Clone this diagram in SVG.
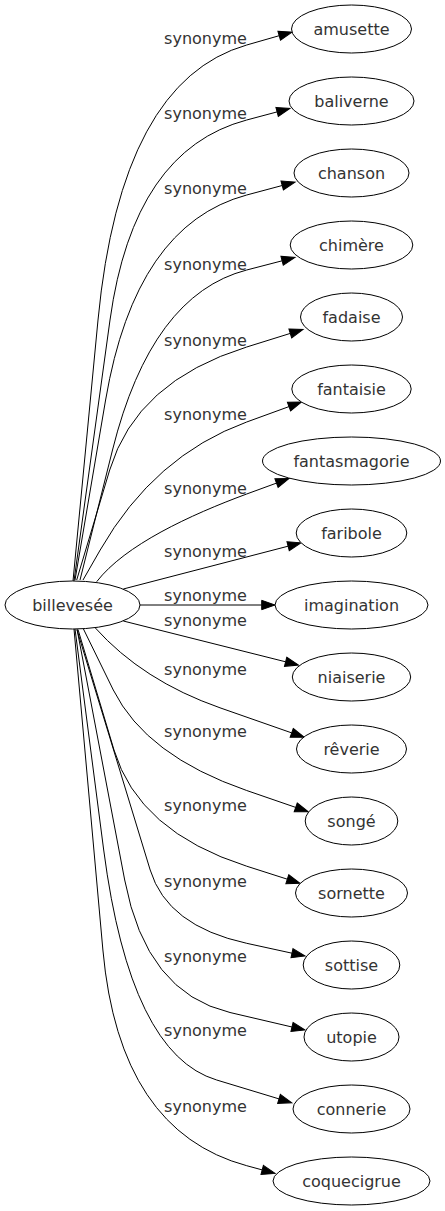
<svg xmlns="http://www.w3.org/2000/svg" width="445" height="1211" viewBox="0 0 445 1211">
<style>
.node ellipse{fill:#fff;stroke:#000;stroke-width:1}
.node text{font-family:"DejaVu Sans",sans-serif;font-size:16px;fill:#333;text-anchor:middle}
.edges path{fill:none;stroke:#000;stroke-width:1;marker-end:url(#ah)}
.edges text{font-family:"DejaVu Sans",sans-serif;font-size:16px;fill:#333;text-anchor:middle}
</style>
<defs>
<marker id="ah" markerUnits="userSpaceOnUse" markerWidth="14" markerHeight="10" viewBox="0 0 14 10" refX="0" refY="4.67" orient="auto" overflow="visible">
<path d="M0,0 L13.3,4.67 L0,9.33 Z" fill="#000" stroke="#000" stroke-width="1"/>
</marker>
</defs>
<rect width="445" height="1211" fill="#fff"/>
<g id="edges" class="edges">
<path d="M73,581 L98,320 Q120.9,81.1 246.7,45 L279.2,35.7"/>
<path d="M74,581 L110,320 Q133.5,150.1 246.7,120 L277.1,111.9"/>
<path d="M75,580 L105.6,400 Q135.4,224.9 246.7,195 L282.2,185.5"/>
<path d="M80,580 L112.5,450 Q151.3,294.7 246.7,270 L282.1,260.8"/>
<path d="M76.7,580 L109.7,470 Q136.3,381.3 246.7,347 L290.3,333.4"/>
<path d="M83,580 L100.2,550 Q154.3,455.7 246.7,422 L289,406.6"/>
<path d="M96.7,581.7 C125,545 190,515 246.7,494 L276.5,483.1"/>
<path d="M123.3,589 L288.1,546.2"/>
<path d="M140,605 L261.7,605"/>
<path d="M123.3,621 L285.6,661.8"/>
<path d="M95,627.6 Q142.7,680.8 220,707.8 L291.7,732.9"/>
<path d="M83.3,628.7 L113.3,690 Q146.2,755.8 246.7,790.5 L295.7,807.4"/>
<path d="M78,629.5 L114,750 Q138.5,831.6 246.7,866.2 L287.3,879.2"/>
<path d="M77,630 L150.2,870 Q167.2,926 246.7,943.3 L292,953.2"/>
<path d="M77,629 L124.7,880 Q146.1,992.8 230,1012.5 L292,1027"/>
<path d="M75,629 L103.7,850 Q130.3,1054.3 216.7,1080 L279,1098.9"/>
<path d="M74,629 L102.9,950 Q119.2,1131.2 246.7,1165.7 L262.2,1169.9"/>
<text x="205.5" y="44">synonyme</text>
<text x="205.5" y="119">synonyme</text>
<text x="205.5" y="194">synonyme</text>
<text x="205.5" y="270">synonyme</text>
<text x="205.5" y="346">synonyme</text>
<text x="205.5" y="420">synonyme</text>
<text x="205.5" y="494">synonyme</text>
<text x="205.5" y="557">synonyme</text>
<text x="205.5" y="601">synonyme</text>
<text x="205.5" y="626">synonyme</text>
<text x="205.5" y="675">synonyme</text>
<text x="205.5" y="737">synonyme</text>
<text x="205.5" y="811">synonyme</text>
<text x="205.5" y="887">synonyme</text>
<text x="205.5" y="962">synonyme</text>
<text x="205.5" y="1036">synonyme</text>
<text x="205.5" y="1112">synonyme</text>
</g>
<g id="n-billevesee" class="node"><ellipse cx="72.5" cy="605" rx="67.5" ry="24"/><text x="72.5" y="611">billevesée</text></g>
<g id="n-amusette" class="node"><ellipse cx="351.5" cy="29" rx="60" ry="24"/><text x="351.5" y="35">amusette</text></g>
<g id="n-baliverne" class="node"><ellipse cx="351.5" cy="101" rx="62.5" ry="24"/><text x="351.5" y="107">baliverne</text></g>
<g id="n-chanson" class="node"><ellipse cx="351.5" cy="173" rx="57.5" ry="24"/><text x="351.5" y="179">chanson</text></g>
<g id="n-chimere" class="node"><ellipse cx="351.5" cy="245" rx="61.3" ry="24"/><text x="351.5" y="251">chimère</text></g>
<g id="n-fadaise" class="node"><ellipse cx="351.5" cy="317" rx="51" ry="24"/><text x="351.5" y="323">fadaise</text></g>
<g id="n-fantaisie" class="node"><ellipse cx="351.5" cy="389" rx="59.7" ry="24"/><text x="351.5" y="395">fantaisie</text></g>
<g id="n-fantasmagorie" class="node"><ellipse cx="351.5" cy="461" rx="89" ry="24"/><text x="351.5" y="467">fantasmagorie</text></g>
<g id="n-faribole" class="node"><ellipse cx="351.5" cy="533" rx="55.3" ry="24"/><text x="351.5" y="539">faribole</text></g>
<g id="n-imagination" class="node"><ellipse cx="351.5" cy="605" rx="76.5" ry="24"/><text x="351.5" y="611">imagination</text></g>
<g id="n-niaiserie" class="node"><ellipse cx="351.5" cy="677" rx="59.2" ry="24"/><text x="351.5" y="683">niaiserie</text></g>
<g id="n-reverie" class="node"><ellipse cx="351.5" cy="749" rx="55" ry="24"/><text x="351.5" y="755">rêverie</text></g>
<g id="n-songe" class="node"><ellipse cx="351.5" cy="821" rx="46.3" ry="24"/><text x="351.5" y="827">songé</text></g>
<g id="n-sornette" class="node"><ellipse cx="351.5" cy="893" rx="56" ry="24"/><text x="351.5" y="899">sornette</text></g>
<g id="n-sottise" class="node"><ellipse cx="351.5" cy="965" rx="48.3" ry="24"/><text x="351.5" y="971">sottise</text></g>
<g id="n-utopie" class="node"><ellipse cx="351.5" cy="1037" rx="47.5" ry="24"/><text x="351.5" y="1043">utopie</text></g>
<g id="n-connerie" class="node"><ellipse cx="351.5" cy="1109" rx="58.5" ry="24"/><text x="351.5" y="1115">connerie</text></g>
<g id="n-coquecigrue" class="node"><ellipse cx="351.5" cy="1181" rx="78.5" ry="24"/><text x="351.5" y="1187">coquecigrue</text></g>
</svg>
